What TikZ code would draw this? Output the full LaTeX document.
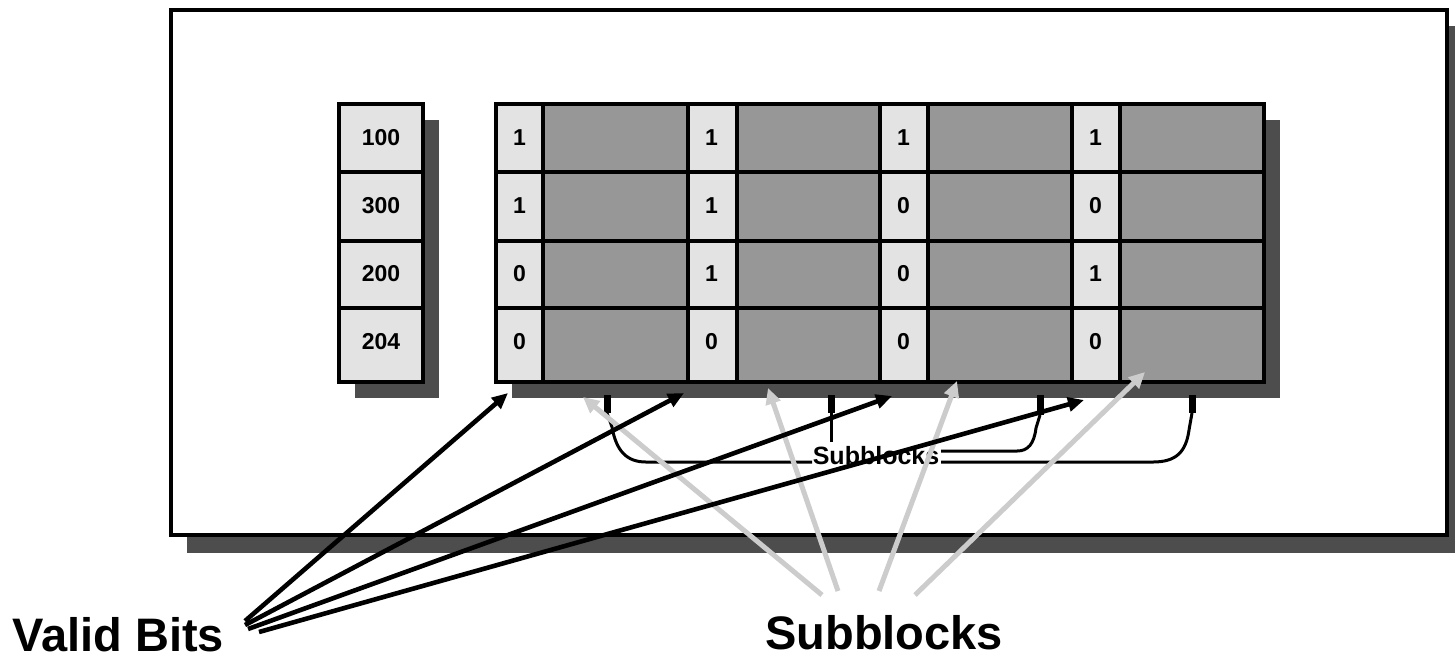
\documentclass[tikz,border=0pt]{standalone}
\usepackage{fontspec}
\setmainfont{Liberation Sans}
\usetikzlibrary{arrows.meta}
\definecolor{cellpale}{HTML}{E3E3E3}
\definecolor{celldata}{HTML}{979797}
\definecolor{shadowdark}{HTML}{4D4D4D}
\definecolor{ptrgray}{HTML}{CCCCCC}
\begin{document}
\begin{tikzpicture}[x=0.5pt,y=-0.5pt,
  gridline/.style={draw=black,line width=1.8pt},
  shadowbox/.style={fill=shadowdark},
  palecell/.style={fill=cellpale},
  datacell/.style={fill=celldata},
  celltext/.style={font=\fontsize{11.5}{12}\selectfont\bfseries,inner sep=0pt},
  bracethin/.style={line width=1.5pt,line join=round},
  bracethick/.style={line width=3.5pt},
  validptr/.style={line width=2.3pt,-{Triangle[length=8pt,width=7pt]}},
  subptr/.style={draw=ptrgray,line width=2.5pt,-{Triangle[length=8pt,width=7.5pt]}},
  biglabel/.style={font=\fontsize{23.5}{26}\selectfont\bfseries,inner sep=0pt,anchor=base west}]
\useasboundingbox (0,0) rectangle (1455,661);

% outer frame with its drop shadow
\fill[shadowbox] (187,26) rectangle (1465,553);
\draw[line width=2pt,fill=white] (171,10) rectangle (1447,535);

% shadows of the tag column and the block array
\fill[shadowbox] (355,120) rectangle (439,398);
\fill[shadowbox] (512,120) rectangle (1280,398);

% tag column
\fill[palecell] (339,104) rectangle (423,382);
\foreach \ya/\yb in {104/172,172/241,241/308,308/382}
  \draw[gridline] (339,\ya) rectangle (423,\yb);
\node[celltext] (tag1) at (381,138) {100};
\node[celltext] (tag2) at (381,206) {300};
\node[celltext] (tag3) at (381,274) {200};
\node[celltext] (tag4) at (381,342) {204};

% block array: valid bit cell plus data cell for each of 4 subblocks
\foreach \xa/\xb/\xc in {496/543/688,688/737/880,880/928/1072,1072/1120/1264}{
  \fill[palecell] (\xa,104) rectangle (\xb,382);
  \fill[datacell] (\xb,104) rectangle (\xc,382);
  \foreach \ya/\yb in {104/172,172/241,241/308,308/382}{
    \draw[gridline] (\xa,\ya) rectangle (\xb,\yb);
    \draw[gridline] (\xb,\ya) rectangle (\xc,\yb);
  }
}
% valid bits, row by row
\foreach \row/\yc/\bits in {1/138/{1,1,1,1},2/206/{1,1,0,0},3/274/{0,1,0,1},4/342/{0,0,0,0}}{
  \foreach \b [count=\c] in \bits{
    \node[celltext] (v\row\c) at ({519.5+192*(\c-1)},\yc) {\b};
  }
}

% bracket marking the subblocks
\draw[bracethick] (607,395) -- (607,413);
\draw[bracethick] (831,395) -- (831,413);
\draw[bracethick] (1040,395) -- (1040,415);
\draw[bracethick] (1192,395) -- (1192,413);
\draw[bracethin] (607,413) -- (612,427) .. controls (616,450) and (626,462) .. (646,462) -- (812,462);
\draw[bracethin] (831,413) -- (831,442);
\draw[bracethin] (1040,415) -- (1036,428) .. controls (1034,444) and (1028,451) .. (1017,451) -- (941,451);
\draw[bracethin] (1192,413) -- (1189,430) .. controls (1186,452) and (1176,462) .. (1153,462) -- (941,462);
\node[inner sep=0pt,font=\fontsize{12.5}{13}\selectfont\bfseries] (subtext) at (876,456) {Subblocks};

% labels below the frame
\node[biglabel] (validlbl) at (12,651) {Valid Bits};
\node[biglabel] (sublbl) at (765,649) {Subblocks};

% pointers from the labels
\coordinate (s1) at (822,595);
\coordinate (s2) at (838,591);
\coordinate (s3) at (879,591);
\coordinate (s4) at (915,595);
\coordinate (st1) at (583,397);
\coordinate (st2) at (768,388);
\coordinate (st3) at (957,381);
\coordinate (st4) at (1145,372);
\foreach \i in {1,...,4} \draw[subptr] (s\i) -- (st\i);

\coordinate (b1) at (245,621);
\coordinate (b2) at (245,625);
\coordinate (b3) at (248,629);
\coordinate (b4) at (259,632);
\coordinate (bt1) at (508,393);
\coordinate (bt2) at (684,393);
\coordinate (bt3) at (892,396);
\coordinate (bt4) at (1084,400);
\foreach \i in {1,...,4} \draw[validptr] (b\i) -- (bt\i);
\end{tikzpicture}
\end{document}
